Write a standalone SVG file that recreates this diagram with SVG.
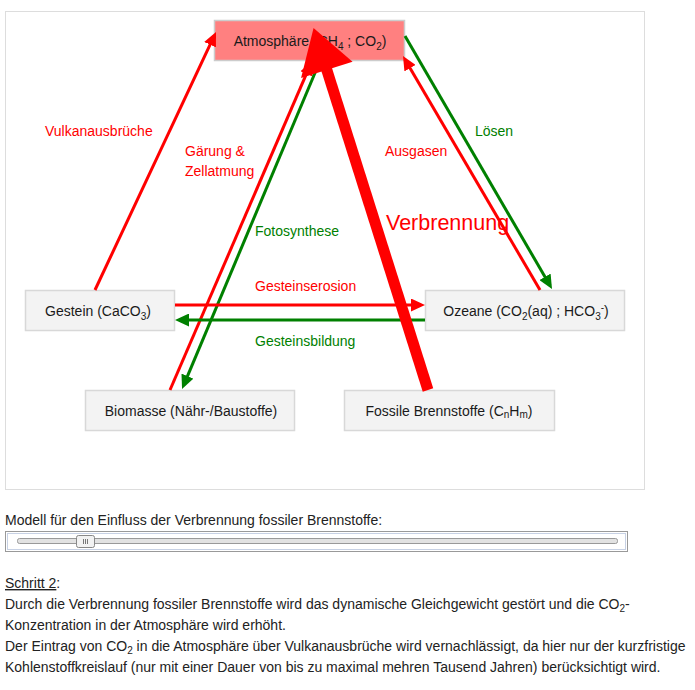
<svg xmlns="http://www.w3.org/2000/svg" width="695" height="690" viewBox="0 0 695 690">
<style>
  text { font-family: "Liberation Sans", Arial, sans-serif; font-size: 14px; }
  .node rect { fill: #f3f3f3; stroke: #d8d8d8; stroke-width: 1.5; }
  .node text { fill: #1a1a1a; text-anchor: middle; }
  .sub { font-size: 10px; }
  .r { stroke: #ff0000; stroke-width: 3; fill: none; }
  .g { stroke: #008000; stroke-width: 3; fill: none; }
  .lr { fill: #ff0000; }
  .lg { fill: #008000; }
  .body { fill: #222; }
</style>
<defs>
  <marker id="hr" markerUnits="userSpaceOnUse" markerWidth="14" markerHeight="13" refX="10" refY="6.5" orient="auto">
    <path d="M0,0 L14,6.5 L0,13 z" fill="#ff0000"/>
  </marker>
  <marker id="hg" markerUnits="userSpaceOnUse" markerWidth="14" markerHeight="13" refX="10" refY="6.5" orient="auto">
    <path d="M0,0 L14,6.5 L0,13 z" fill="#008000"/>
  </marker>
  <marker id="hbig" markerUnits="userSpaceOnUse" markerWidth="46" markerHeight="54" refX="1" refY="27" orient="auto" overflow="visible">
    <path d="M0,0 L44,27 L0,54 z" fill="#ff0000"/>
  </marker>
</defs>

<rect x="5.5" y="11.5" width="639" height="478" fill="#fff" stroke="#dddddd" stroke-width="1"/>

<g id="atmosphaere" class="node">
  <rect x="214.5" y="20.5" width="190" height="40" style="fill:#ff8080;stroke:#cccccc"/>
  <text x="310" y="46">Atmosphäre (CH<tspan class="sub" dy="4">4</tspan><tspan dy="-4"> ; CO</tspan><tspan class="sub" dy="4">2</tspan><tspan dy="-4">)</tspan></text>
</g>
<g id="gestein" class="node">
  <rect x="25.5" y="290.5" width="149" height="40"/>
  <text x="98" y="316">Gestein (CaCO<tspan class="sub" dy="4">3</tspan><tspan dy="-4">)</tspan></text>
</g>
<g id="ozeane" class="node">
  <rect x="425.5" y="290.5" width="199" height="40"/>
  <text x="526" y="316">Ozeane (CO<tspan class="sub" dy="4">2</tspan><tspan dy="-4">(aq) ; HCO</tspan><tspan class="sub" dy="4">3</tspan><tspan class="sub" dy="-9">-</tspan><tspan dy="5">)</tspan></text>
</g>
<g id="biomasse" class="node">
  <rect x="85.5" y="390.5" width="209" height="40"/>
  <text x="191" y="416">Biomasse (Nähr-/Baustoffe)</text>
</g>
<g id="fossile" class="node">
  <rect x="344.5" y="390.5" width="210" height="40"/>
  <text x="449" y="416">Fossile Brennstoffe (C<tspan class="sub" dy="2">n</tspan><tspan dy="-2">H</tspan><tspan class="sub" dy="2">m</tspan><tspan dy="-2">)</tspan></text>
</g>

<g id="connectors">
  <line class="r" x1="95" y1="290" x2="214.3" y2="35.6" marker-end="url(#hr)"/>
  <line class="g" x1="405" y1="36" x2="550" y2="285.5" marker-end="url(#hg)"/>
  <line class="r" x1="540" y1="290" x2="405" y2="59.5" marker-end="url(#hr)"/>
  <line class="r" x1="170" y1="390" x2="310.4" y2="64.7" marker-end="url(#hr)"/>
  <line class="g" x1="320" y1="61" x2="183.6" y2="385.3" marker-end="url(#hg)"/>
  <line class="r" x1="175" y1="305" x2="421" y2="305" marker-end="url(#hr)"/>
  <line class="g" x1="425" y1="320" x2="179" y2="320" marker-end="url(#hg)"/>
  <line x1="428" y1="390" x2="326.5" y2="69" stroke="#ff0000" stroke-width="11" marker-end="url(#hbig)"/>

  <text class="lr" x="45" y="136">Vulkanausbrüche</text>
  <text class="lr" x="185" y="156">Gärung &amp;</text>
  <text class="lr" x="185" y="176">Zellatmung</text>
  <text class="lg" x="255" y="236">Fotosynthese</text>
  <text class="lr" x="385" y="156">Ausgasen</text>
  <text class="lg" x="475" y="136">Lösen</text>
  <text class="lr" x="386" y="230" style="font-size:21.5px">Verbrennung</text>
  <text class="lr" x="255" y="291">Gesteinserosion</text>
  <text class="lg" x="255" y="346">Gesteinsbildung</text>
</g>

<text class="body" x="5" y="525">Modell für den Einfluss der Verbrennung fossiler Brennstoffe:</text>
<rect x="5.5" y="531.5" width="622" height="20" fill="none" stroke="#333" stroke-width="1" stroke-dasharray="1,1"/>
<rect x="7.5" y="533.5" width="618" height="16" fill="none" stroke="#8fa3c8" stroke-width="1" stroke-dasharray="1,1"/>
<rect x="17.5" y="538.5" width="600" height="5" rx="2" fill="#e2e2e2" stroke="#999" stroke-width="1"/>
<rect x="76.5" y="535.5" width="18" height="12" rx="2" fill="#f2f2f2" stroke="#888" stroke-width="1"/>
<line x1="83.5" y1="539" x2="83.5" y2="544" stroke="#777" stroke-width="1"/>
<line x1="85.5" y1="539" x2="85.5" y2="544" stroke="#777" stroke-width="1"/>
<line x1="87.5" y1="539" x2="87.5" y2="544" stroke="#777" stroke-width="1"/>

<text class="body" x="5" y="588"><tspan text-decoration="underline">Schritt 2</tspan>:</text>
<text class="body" x="5" y="609">Durch die Verbrennung fossiler Brennstoffe wird das dynamische Gleichgewicht gestört und die CO<tspan class="sub" dy="3">2</tspan><tspan dy="-3">-</tspan></text>
<text class="body" x="5" y="630">Konzentration in der Atmosphäre wird erhöht.</text>
<text class="body" x="5" y="651">Der Eintrag von CO<tspan class="sub" dy="3">2</tspan><tspan dy="-3"> in die Atmosphäre über Vulkanausbrüche wird vernachlässigt, da hier nur der kurzfristige</tspan></text>
<text class="body" x="5" y="672">Kohlenstoffkreislauf (nur mit einer Dauer von bis zu maximal mehren Tausend Jahren) berücksichtigt wird.</text>
</svg>
